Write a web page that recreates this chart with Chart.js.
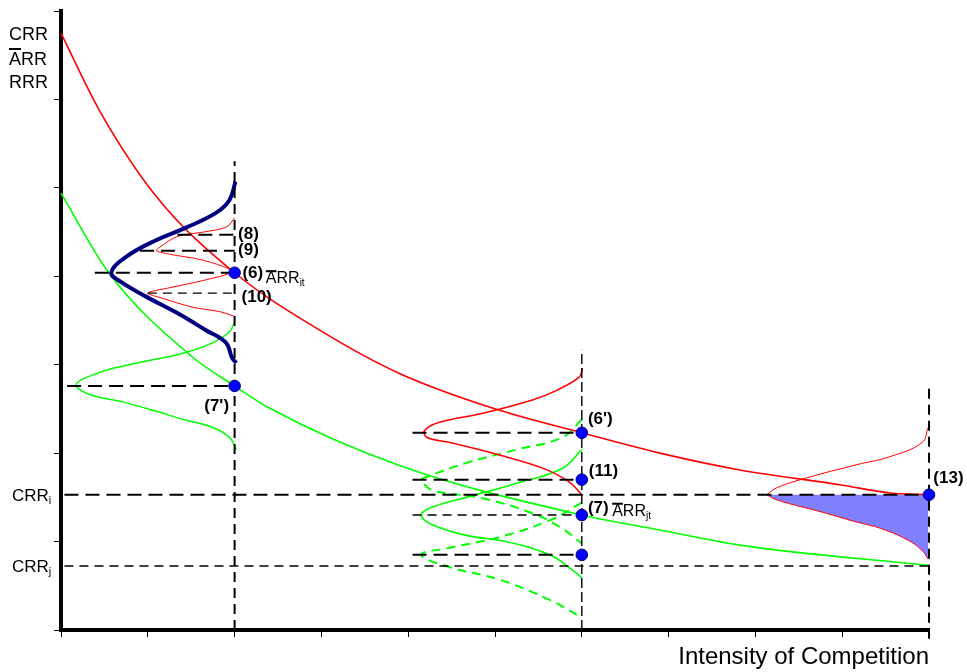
<!DOCTYPE html>
<html><head><meta charset="utf-8">
<script src="https://cdn.jsdelivr.net/npm/chart.js@4.4.0/dist/chart.umd.min.js"></script>
<style>html,body{margin:0;padding:0;background:#fff;}canvas{display:block;}</style>
</head><body>
<canvas id="c" width="967" height="672"></canvas>
<script>
// ---- scale ticks ----
const xTicks = [0,1,2,3,4,5,6,7,8,9,10];
const yTicks = [0,1,2,3,4,5,6,7];

// ---- reference levels ----
const crrI = 1.53;
const crrJ = 0.724;

// ---- main curves ----
const arrIX = [0, 0.44, 1.1, 2, 3, 3.88, 4.97, 6, 6.9, 7.82, 8.99, 9.55, 10];
const arrIY = [6.75, 5.88, 4.9, 4.04, 3.38, 2.91, 2.51, 2.23, 2.0, 1.81, 1.64, 1.55, 1.53];
const arrJX = [0, 0.55, 1.51, 2, 2.4, 3.9, 6, 6.9, 7.82, 10];
const arrJY = [4.94, 4.04, 3.09, 2.76, 2.51, 1.86, 1.30, 1.13, 0.96, 0.73];

// ---- distributions at t (x = 2) ----
const navyX = [2.01, 1.94, 1.79, 1.44, 1.10, 0.75, 0.58, 0.70, 0.98, 1.33, 1.67, 1.90, 1.97, 2.02];
const navyY = [5.07, 4.86, 4.72, 4.55, 4.41, 4.22, 4.04, 3.93, 3.77, 3.59, 3.39, 3.25, 3.08, 3.02];
const redLX = [2.0, 1.91, 1.64, 1.34, 1.14, 1.10, 1.25, 1.60, 1.87, 1.97, 1.67, 1.25, 1.00, 1.14, 1.52, 1.83, 1.99];
const redLY = [4.66, 4.56, 4.50, 4.45, 4.33, 4.29, 4.25, 4.19, 4.11, 4.05, 3.96, 3.87, 3.81, 3.76, 3.65, 3.60, 3.55];
const grnLX = [2.0, 1.94, 1.75, 1.41, 1.03, 0.60, 0.30, 0.18, 0.20, 0.37, 0.71, 1.11, 1.41, 1.75, 1.95, 2.02];
const grnLY = [3.48, 3.37, 3.25, 3.13, 3.05, 2.96, 2.86, 2.79, 2.73, 2.65, 2.58, 2.47, 2.38, 2.29, 2.17, 2.04];

// ---- distributions at x = 6 ----
const redMX = [6.01, 5.97, 5.71, 5.43, 4.86, 4.36, 4.19, 4.21, 4.48, 5.05, 5.55, 5.86, 6.0];
const redMY = [2.96, 2.86, 2.71, 2.60, 2.45, 2.35, 2.26, 2.18, 2.12, 1.98, 1.83, 1.67, 1.53];
const grnAX = [6.0, 5.78, 5.25, 4.67, 4.21, 4.15, 4.28, 4.86, 5.43, 5.74, 6.0];
const grnAY = [2.38, 2.18, 2.04, 1.89, 1.73, 1.70, 1.58, 1.49, 1.32, 1.17, 0.98];
const grnCX = [6.0, 5.78, 5.25, 4.67, 4.28, 4.15, 4.28, 4.67, 5.13, 5.63, 5.89, 6.0];
const grnCY = [2.04, 1.83, 1.66, 1.50, 1.39, 1.30, 1.19, 1.07, 1.00, 0.85, 0.68, 0.59];
const grnBX = [6.0, 5.63, 5.05, 4.48, 4.15, 4.48, 5.05, 5.63, 6.0];
const grnBY = [1.44, 1.24, 1.05, 0.93, 0.85, 0.71, 0.57, 0.34, 0.14];

// ---- distribution at x = 10 ----
const redRUX = [9.99, 9.92, 9.55, 9.17, 8.59, 8.25, 8.13];
const redRUY = [2.29, 2.12, 1.96, 1.87, 1.72, 1.61, 1.53];
const redRLX = [8.13, 8.25, 8.78, 9.17, 9.44, 9.75, 9.92, 9.99];
const redRLY = [1.53, 1.47, 1.33, 1.22, 1.15, 1.02, 0.90, 0.80];

// ---- marked points ----
const dotX = [2, 2, 6, 6, 6, 6, 10];
const dotY = [4.04, 2.76, 2.23, 1.70, 1.30, 0.85, 1.53];

// ---- guide lines ----
const hLines = [
  {x:[1.34,2], y:4.47, w:2}, {x:[0.91,2], y:4.29, w:2}, {x:[0.39,2], y:4.04, w:2},
  {x:[1.0,2], y:3.81, w:1}, {x:[0.07,2], y:2.76, w:2},
  {x:[4.05,6], y:2.23, w:2}, {x:[4.05,6], y:1.70, w:2}, {x:[4.05,6], y:1.30, w:1},
  {x:[4.05,6], y:0.85, w:2}, {x:[0.04,10], y:crrI, w:2}, {x:[0.04,10], y:crrJ, w:1}
];
const vLines = [ {x:2, y:[0,5.3], w:2}, {x:6, y:[0,3.17], w:1}, {x:10, y:[-0.1,2.77], w:2} ];

// ---- labels ----
const ptLabels = [
  {t:'(8)', x:2.04, y:4.47}, {t:'(9)', x:2.04, y:4.29}, {t:'(6)', x:2.09, y:4.03},
  {t:'(10)', x:2.08, y:3.76}, {t:"(7')", x:1.65, y:2.53}, {t:"(6')", x:6.07, y:2.38},
  {t:'(11)', x:6.08, y:1.80}, {t:'(7)', x:6.07, y:1.38}, {t:'(13)', x:10.05, y:1.72}
];
const arrLabels = [ {sub:'it', x:2.36, y:3.99}, {sub:'jt', x:6.35, y:1.36} ];

const zip = (xs, ys) => xs.map((v, i) => ({x: v, y: ys[i]}));
const curve = (xs, ys, color, w, extra) => Object.assign({
  data: zip(xs, ys), showLine: true, pointRadius: 0, borderColor: color,
  borderWidth: w, tension: 0.4, fill: false, clip: false, order: 4
}, extra || {});

const datasets = [];
datasets.push({data: zip(dotX, dotY), showLine: false, pointRadius: 5.8, pointBackgroundColor: '#0000ff',
  pointBorderColor: '#00006a', pointBorderWidth: 1, clip: false, order: 0});
hLines.forEach(l => datasets.push(curve(l.x, [l.y, l.y], '#000', l.w > 1 ? 2 : 1.4,
  {tension: 0, borderDash: l.w > 1 ? [14, 7] : [9, 6], order: 1})));
vLines.forEach(l => datasets.push(curve([l.x, l.x], l.y, '#000', l.w > 1 ? 2 : 1.4,
  {tension: 0, borderDash: l.w > 1 ? [10, 6] : [10, 4], order: 1})));
datasets.push(curve(navyX, navyY, '#000080', 4, {order: 2}));
datasets.push(curve(arrIX, arrIY, '#ff0000', 1.6, {cubicInterpolationMode: 'monotone', order: 3}));
datasets.push(curve(arrJX, arrJY, '#00ff00', 1.6, {cubicInterpolationMode: 'monotone', order: 3}));
datasets.push(curve(redLX, redLY, '#ff0000', 1, {tension: 0.35}));
datasets.push(curve(grnLX, grnLY, '#00ff00', 1.5, {tension: 0.35}));
datasets.push(curve(redMX, redMY, '#ff0000', 1.5, {tension: 0.35}));
datasets.push(curve(grnAX, grnAY, '#00ff00', 2, {borderDash: [9, 6]}));
datasets.push(curve(grnCX, grnCY, '#00ff00', 1.6));
datasets.push(curve(grnBX, grnBY, '#00ff00', 2, {borderDash: [9, 6]}));
datasets.push(curve(redRUX, redRUY, '#ff0000', 1));
datasets.push(curve(redRLX, redRLY, '#ff0000', 1, {fill: {value: crrI}, backgroundColor: '#8080ff', order: 5}));

const annot = {
  id: 'annot',
  afterDraw(chart) {
    const {ctx} = chart; const xs = chart.scales.x, ys = chart.scales.y;
    const fam = '"Liberation Sans", Arial, sans-serif';
    ctx.save();
    ctx.fillStyle = '#000'; ctx.strokeStyle = '#000';
    ctx.textAlign = 'left'; ctx.textBaseline = 'middle';
    ctx.font = 'bold 17px ' + fam;
    ptLabels.forEach(l => ctx.fillText(l.t, xs.getPixelForValue(l.x), ys.getPixelForValue(l.y)));
    arrLabels.forEach(l => {
      const px = xs.getPixelForValue(l.x), py = ys.getPixelForValue(l.y);
      ctx.textBaseline = 'alphabetic';
      ctx.font = '16px ' + fam;
      ctx.fillText('ARR', px, py + 6);
      const w = ctx.measureText('ARR').width;
      ctx.fillRect(px, py - 7, ctx.measureText('A').width, 2);
      ctx.font = '10px ' + fam;
      ctx.fillText(l.sub, px + w, py + 9);
    });
    // axis labels (left side)
    ctx.textBaseline = 'alphabetic';
    ctx.font = '18px ' + fam;
    const lx = 9;
    ctx.fillText('CRR', lx, 40);
    ctx.fillText('ARR', lx, 65);
    ctx.fillRect(lx, 48, ctx.measureText('A').width, 2);
    ctx.fillText('RRR', lx, 88);
    const crrLab = (sub, val) => {
      const py = ys.getPixelForValue(val);
      ctx.font = '17px ' + fam;
      ctx.fillText('CRR', 12, py + 6);
      const w = ctx.measureText('CRR').width;
      ctx.font = '11px ' + fam;
      ctx.fillText(sub, 12 + w, py + 9);
    };
    crrLab('i', crrI); crrLab('j', crrJ);
    ctx.restore();
  }
};

new Chart(document.getElementById('c'), {
  type: 'scatter',
  data: {datasets},
  options: {
    responsive: false, animation: false, devicePixelRatio: 1, events: [],
    layout: {padding: {left: 54, right: 38, top: 11, bottom: 0}},
    plugins: {legend: {display: false}, tooltip: {enabled: false}},
    scales: {
      x: {
        type: 'linear', min: xTicks[0], max: xTicks[xTicks.length - 1],
        afterBuildTicks: s => { s.ticks = xTicks.map(v => ({value: v})); },
        ticks: {display: false},
        grid: {drawOnChartArea: false, drawTicks: true, tickLength: 7, color: '#000', lineWidth: 1},
        border: {display: true, color: '#000', width: 4},
        title: {display: true, text: 'Intensity of Competition', align: 'end', color: '#000',
          font: {family: '"Liberation Sans", Arial, sans-serif', size: 24}, padding: {top: 6, bottom: 0}},
        afterFit: s => { s.height = 42; }
      },
      y: {
        type: 'linear', min: yTicks[0], max: yTicks[yTicks.length - 1],
        afterBuildTicks: s => { s.ticks = yTicks.map(v => ({value: v})); },
        ticks: {display: false},
        grid: {drawOnChartArea: false, drawTicks: true, tickLength: 7, color: '#000', lineWidth: 1},
        border: {display: true, color: '#000', width: 4},
        afterFit: s => { s.width = 7; }
      }
    }
  },
  plugins: [annot]
});
</script>
</body></html>
